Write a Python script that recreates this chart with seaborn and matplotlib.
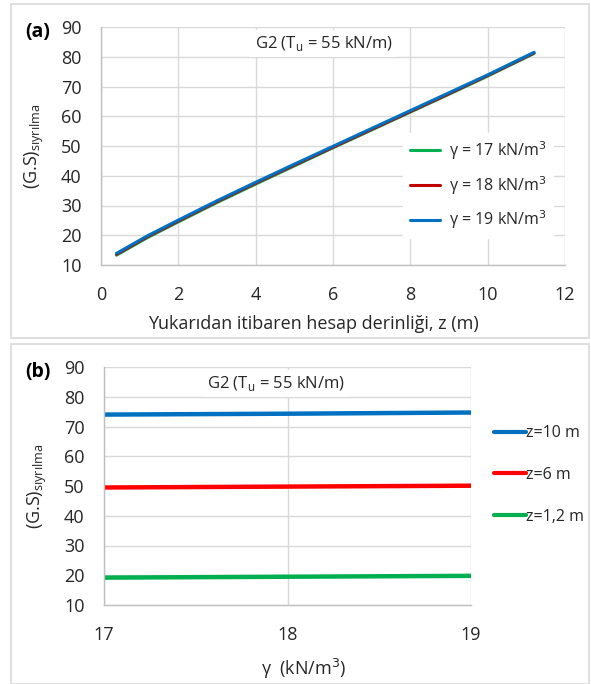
import matplotlib
matplotlib.use("Agg")
import matplotlib.pyplot as plt
import seaborn as sns
import pandas as pd
from matplotlib.patches import Rectangle

# panel (a): depth z vs (G.S) for three unit weights
z = [0.4, 1.2, 2.0, 3.0, 4.0, 5.0, 6.0, 7.0, 8.0, 9.0, 10.0, 11.2]
gs_g17 = [13.3, 19.2, 24.5, 31.0, 37.2, 43.3, 49.4, 55.4, 61.4, 67.4, 73.5, 81.1]
gs_g18 = [13.6, 19.5, 24.8, 31.3, 37.5, 43.6, 49.6, 55.6, 61.6, 67.6, 73.7, 81.3]
gs_g19 = [13.9, 19.8, 25.1, 31.6, 37.8, 43.9, 49.9, 55.9, 61.9, 67.9, 73.9, 81.5]
labels_a = ["γ = 17 kN/m$^3$", "γ = 18 kN/m$^3$", "γ = 19 kN/m$^3$"]

# panel (b): unit weight vs (G.S) for three depths
gamma = [17, 18, 19]
gs_z10 = [74.0, 74.3, 74.7]
gs_z6 = [49.5, 49.8, 50.1]
gs_z12 = [19.2, 19.5, 19.8]
labels_b = ["z=10 m", "z=6 m", "z=1,2 m"]

sns.set_theme(style="white")
plt.rcParams["font.family"] = ["Open Sans", "DejaVu Sans"]

green, red_a, red_b, blue = "#00B050", "#C00000", "#FF0000", "#0070C0"
grid_c = "#D9D9D9"
txt_c = "#262626"
fs = 13

dfa = pd.concat([
    pd.DataFrame({"z": z, "gs": gs_g17, "s": labels_a[0]}),
    pd.DataFrame({"z": z, "gs": gs_g18, "s": labels_a[1]}),
    pd.DataFrame({"z": z, "gs": gs_g19, "s": labels_a[2]}),
])
dfb = pd.concat([
    pd.DataFrame({"g": gamma, "gs": gs_z10, "s": labels_b[0]}),
    pd.DataFrame({"g": gamma, "gs": gs_z6, "s": labels_b[1]}),
    pd.DataFrame({"g": gamma, "gs": gs_z12, "s": labels_b[2]}),
])

fig = plt.figure(figsize=(5.91, 6.84), dpi=100)
fig.patch.set_facecolor("white")
# panel frames
fig.add_artist(Rectangle((11 / 591, 1 - 338 / 684), 578 / 591, 334 / 684,
                         transform=fig.transFigure, fill=False, ec="#D9D9D9", lw=1.2))
fig.add_artist(Rectangle((11 / 591, 0.0), 578 / 591, 340 / 684,
                         transform=fig.transFigure, fill=False, ec="#D9D9D9", lw=1.2))

ax1 = fig.add_axes([101 / 591, 1 - 265 / 684, 464 / 591, 238 / 684])
ax2 = fig.add_axes([104 / 591, 1 - 605 / 684, 367 / 591, 238 / 684])

sns.lineplot(data=dfa, x="z", y="gs", hue="s", palette=[green, red_a, blue],
             linewidth=2.2, ax=ax1, legend=False)
sns.lineplot(data=dfb, x="g", y="gs", hue="s", palette=[blue, red_b, green],
             linewidth=3.2, ax=ax2, legend=False)

for ax in (ax1, ax2):
    ax.set_ylim(10, 90)
    ax.set_yticks(range(10, 91, 10))
    ax.grid(True, color=grid_c, lw=1.0)
    ax.set_axisbelow(True)
    for s in ("top", "right"):
        ax.spines[s].set_visible(False)
    for s in ("left", "bottom"):
        ax.spines[s].set_color("#BFBFBF")
        ax.spines[s].set_linewidth(1.0)
    ax.tick_params(axis="both", labelsize=fs, colors=txt_c, length=0)
    ax.tick_params(axis="y", pad=14)
    ax.set_ylabel("(G.S)$_{\\mathregular{sıyrılma}}$", fontsize=fs, color=txt_c, labelpad=11)

ax1.set_xlim(0, 12)
ax1.set_xticks(range(0, 13, 2))
ax1.tick_params(axis="x", pad=15)
ax1.set_xlabel("Yukarıdan itibaren hesap derinliği, z (m)", fontsize=fs, color=txt_c, labelpad=7)
ax1.xaxis.set_label_coords(0.457, -0.21)
ax1.text(0.48, 0.93, "G2 (T$_\\mathregular{u}$ = 55 kN/m)", transform=ax1.transAxes, ha="center",
         va="center", fontsize=12, color=txt_c,
         bbox=dict(facecolor="white", edgecolor="none", pad=3))
h = [plt.Line2D([], [], color=c, lw=2.2) for c in (green, red_a, blue)]
leg1 = ax1.legend(h, labels_a, loc="center left", bbox_to_anchor=(0.634, 0.335), frameon=True,
                  fontsize=11.5, handlelength=1.9, handletextpad=0.6, labelspacing=0.75,
                  borderpad=0.4, framealpha=1.0, edgecolor="white", fancybox=False)
for t in leg1.get_texts():
    t.set_color(txt_c)

ax2.set_xlim(17, 19)
ax2.set_xticks([17, 18, 19])
ax2.tick_params(axis="x", pad=15)
ax2.set_xlabel("γ  (kN/m$^3$)", fontsize=fs, color=txt_c, labelpad=10)
ax2.xaxis.set_label_coords(0.545, -0.22)
ax2.text(0.47, 0.93, "G2 (T$_\\mathregular{u}$ = 55 kN/m)", transform=ax2.transAxes, ha="center",
         va="center", fontsize=12, color=txt_c,
         bbox=dict(facecolor="white", edgecolor="none", pad=3))
h2 = [plt.Line2D([], [], color=c, lw=3.0) for c in (blue, red_b, green)]
leg2 = fig.legend(h2, labels_b, loc="center left", bbox_to_anchor=(480 / 591, 1 - 475 / 684),
                  frameon=False, fontsize=11.5, handlelength=1.95, handletextpad=0.05,
                  labelspacing=1.6)
for t in leg2.get_texts():
    t.set_color(txt_c)

fig.text(25 / 591, 1 - 32 / 684, "(a)", fontsize=14, fontweight="bold", color="black", va="center")
fig.text(25 / 591, 1 - 372 / 684, "(b)", fontsize=14, fontweight="bold", color="black", va="center")

fig.savefig("out.png", dpi=100, facecolor="white")
